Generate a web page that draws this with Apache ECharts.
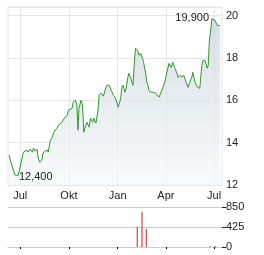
<!DOCTYPE html>
<html>
<head>
<meta charset="utf-8">
<script src="https://cdn.jsdelivr.net/npm/echarts@6/dist/echarts.min.js"></script>
<style>html,body{margin:0;padding:0;background:#fff}#c{width:264px;height:255px}</style>
</head>
<body>
<div id="c"></div>
<script>
const priceDates = ['2023-06-10','2023-06-14','2023-06-18','2023-06-21','2023-06-23','2023-06-27','2023-07-01','2023-07-05','2023-07-07','2023-07-10','2023-07-14','2023-07-16','2023-07-20','2023-07-24','2023-07-26','2023-07-29','2023-08-02','2023-08-04','2023-08-07','2023-08-11','2023-08-13','2023-08-17','2023-08-21','2023-08-23','2023-08-27','2023-08-31','2023-09-02','2023-09-05','2023-09-09','2023-09-11','2023-09-14','2023-09-18','2023-09-20','2023-09-24','2023-09-28','2023-09-30','2023-10-03','2023-10-07','2023-10-09','2023-10-13','2023-10-14','2023-10-16','2023-10-18','2023-10-20','2023-10-24','2023-10-26','2023-10-28','2023-10-29','2023-10-31','2023-11-04','2023-11-08','2023-11-11','2023-11-15','2023-11-17','2023-11-21','2023-11-23','2023-11-25','2023-11-27','2023-12-01','2023-12-05','2023-12-07','2023-12-10','2023-12-12','2023-12-16','2023-12-20','2023-12-24','2023-12-27','2023-12-31','2024-01-02','2024-01-04','2024-01-07','2024-01-09','2024-01-11','2024-01-15','2024-01-17','2024-01-20','2024-01-22','2024-01-26','2024-01-28','2024-01-30','2024-02-01','2024-02-03','2024-02-04','2024-02-06','2024-02-08','2024-02-10','2024-02-14','2024-02-16','2024-02-17','2024-02-19','2024-02-21','2024-02-23','2024-02-25','2024-02-27','2024-02-29','2024-03-04','2024-03-08','2024-03-10','2024-03-13','2024-03-15','2024-03-19','2024-03-23','2024-03-26','2024-03-28','2024-03-30','2024-04-03','2024-04-07','2024-04-11','2024-04-14','2024-04-18','2024-04-22','2024-04-24','2024-04-28','2024-05-01','2024-05-05','2024-05-09','2024-05-13','2024-05-16','2024-05-20','2024-05-22','2024-05-26','2024-05-29','2024-05-31','2024-06-04','2024-06-08','2024-06-10','2024-06-14','2024-06-18','2024-06-20','2024-06-22','2024-06-25','2024-06-27','2024-06-29','2024-07-03','2024-07-05','2024-07-07','2024-07-09','2024-07-10','2024-07-12'];
const priceValues = [13.41,13.04,12.71,12.47,12.40,12.45,12.85,13.32,13.55,13.55,13.65,13.55,13.69,13.55,13.74,13.60,13.69,13.27,13.08,13.18,13.51,13.60,13.65,13.55,14.12,14.26,14.45,14.59,14.68,14.82,14.73,14.96,15.06,15.20,15.29,15.53,15.53,15.62,15.91,16.00,16.00,15.81,14.59,15.62,16.00,15.86,15.20,14.49,14.68,14.96,14.73,15.15,14.96,15.15,14.92,15.01,15.53,16.24,16.33,16.19,16.28,16.61,16.71,16.71,16.47,16.24,16.14,15.86,15.67,15.81,16.14,16.61,16.71,16.38,16.56,17.04,17.27,17.04,16.85,16.71,17.55,18.26,18.45,18.49,18.35,18.12,18.21,18.12,18.21,17.79,17.74,17.27,16.85,16.71,16.47,16.38,16.38,16.33,16.33,16.24,16.14,16.38,16.56,16.56,16.85,17.32,17.74,17.55,17.79,17.51,17.27,17.08,17.18,17.08,17.18,16.85,16.61,16.85,17.08,17.32,16.85,16.80,16.61,16.56,17.65,17.88,17.88,17.51,17.65,18.73,19.39,19.86,19.90,19.76,19.67,19.53,19.58,19.44,19.53];

const volumeDates = ['2024-02-07','2024-02-16','2024-02-24','2024-06-22','2024-06-24','2024-07-04'];
const volumeValues = [430,750,385,15,15,20];
const volumeDirection = ['down','down','down','up','up','down'];

const tickDates = ['2023-07-01','2023-10-01','2024-01-01','2024-04-01','2024-07-01'];
const tickLabels = ['Jul','Okt','Jan','Apr','Jul'];
const priceTicks = [12,14,16,18,20];
const volumeTicks = [0,425,850];

const axisStart = '2023-06-08';
const axisEnd = '2024-07-16';

function toTime(s){ return +new Date(s + 'T00:00:00'); }
const tickTimes = tickDates.map(toTime);
const xMin = toTime(axisStart), xMax = toTime(axisEnd);

const font = 'Arial, "Liberation Sans", sans-serif';
const textColor = '#222';

const chart = echarts.init(document.getElementById('c'), null, {renderer:'canvas'});
chart.setOption({
  animation: false,
  backgroundColor: '#fff',
  grid: [
    {left: 8, top: 7, width: 214, height: 178, show: true, borderColor: '#e6e6e6', borderWidth: 1, backgroundColor: 'transparent'},
    {left: 8, top: 207, width: 214, height: 40, show: false}
  ],
  xAxis: [
    {
      type: 'value', gridIndex: 0, min: xMin, max: xMax, scale: true,
      axisLine: {show: false},
      axisTick: {show: false, customValues: tickTimes},
      axisLabel: {
        customValues: tickTimes, margin: 5, fontSize: 11, color: textColor, fontFamily: font,
        formatter: function(v){ const i = tickTimes.indexOf(+v); return i >= 0 ? tickLabels[i] : ''; }
      },
      splitLine: {show: true, lineStyle: {color: '#e6e6e6', width: 1}}
    },
    {
      type: 'value', gridIndex: 1, min: xMin, max: xMax, scale: true, position: 'top',
      axisLine: {show: true, lineStyle: {color: '#cccccc', width: 1}},
      axisTick: {show: true, inside: true, length: 2, customValues: tickTimes, lineStyle: {color: '#000', width: 1}},
      axisLabel: {show: true, customValues: tickTimes, formatter: function(){ return ''; }},
      splitLine: {show: false}
    }
  ],
  yAxis: [
    {
      type: 'value', gridIndex: 0, position: 'right', min: 12, max: 20.4, interval: 2,
      axisLine: {show: false}, axisTick: {show: false},
      axisLabel: {
        margin: 4, fontSize: 11, color: textColor, fontFamily: font,
        formatter: function(v){ return priceTicks.indexOf(v) >= 0 ? String(v) : ''; }
      },
      splitLine: {show: true, lineStyle: {color: '#e6e6e6', width: 1}}
    },
    {
      type: 'value', gridIndex: 1, position: 'right', min: 0, max: 850, interval: 425,
      axisLine: {show: false},
      axisTick: {show: true, length: 4, lineStyle: {color: '#222', width: 1}},
      axisLabel: {
        margin: 4, fontSize: 11, color: textColor, fontFamily: font,
        formatter: function(v){ return volumeTicks.indexOf(v) >= 0 ? String(v) : ''; }
      },
      splitLine: {show: true, lineStyle: {color: '#cccccc', width: 1}}
    }
  ],
  series: [
    {
      type: 'line', xAxisIndex: 0, yAxisIndex: 0,
      data: priceDates.map((d, i) => [toTime(d), priceValues[i]]),
      showSymbol: false, symbol: 'none',
      lineStyle: {color: '#2f962f', width: 1},
      itemStyle: {color: '#2f962f'},
      areaStyle: {
        origin: 'start',
        color: new echarts.graphic.LinearGradient(0, 0, 0, 1, [
          {offset: 0, color: '#c6d2db'},
          {offset: 1, color: '#f6f8f9'}
        ])
      },
      markPoint: {
        symbol: 'circle', symbolSize: 0,
        itemStyle: {color: 'transparent'},
        label: {
          show: true, fontSize: 11, color: textColor, fontFamily: font,
          formatter: function(p){ return p.value.toFixed(3).replace('.', ','); }
        },
        data: [
          {type: 'max', label: {position: 'left', distance: 4}},
          {type: 'min', label: {position: 'right', distance: 3}}
        ]
      }
    },
    {
      type: 'bar', xAxisIndex: 1, yAxisIndex: 1,
      data: volumeDates.map((d, i) => [toTime(d), volumeValues[i]]),
      barWidth: 1,
      itemStyle: {
        color: function(p){ return volumeDirection[p.dataIndex] === 'up' ? '#33a033' : '#cc1f1f'; }
      }
    }
  ]
});
</script>
</body>
</html>
